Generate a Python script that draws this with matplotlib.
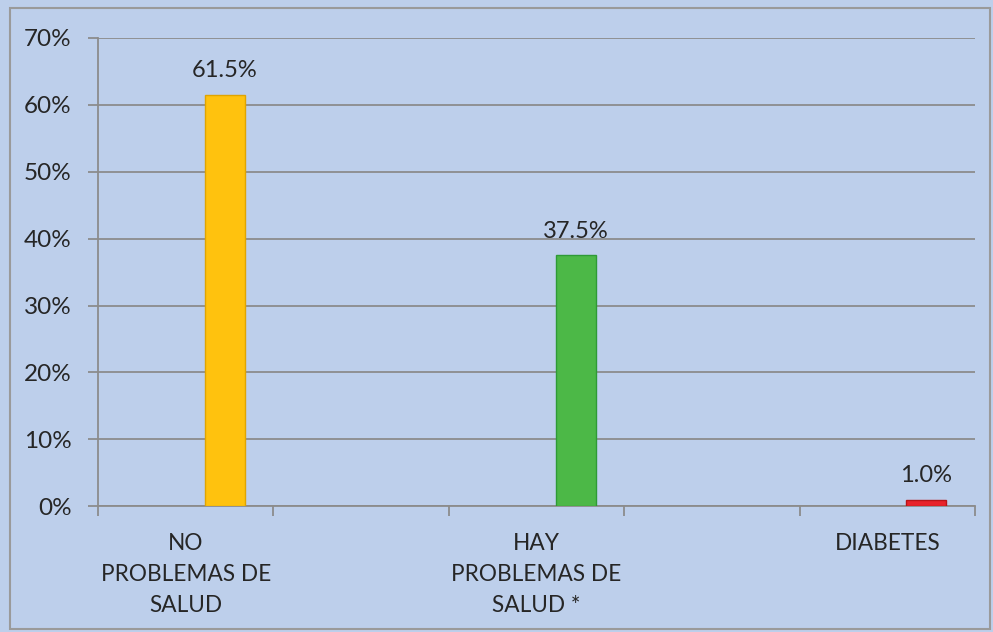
import matplotlib
matplotlib.use("Agg")
from matplotlib import pyplot as plt
from matplotlib.patches import Rectangle

# datos del gráfico
categorias = ["NO\nPROBLEMAS DE\nSALUD", "", "HAY\nPROBLEMAS DE\nSALUD *", "", "DIABETES"]
valores = [61.5, None, 37.5, None, 1.0]
colores = ["#FFC20E", None, "#4CB847", None, "#E8232A"]
bordes = ["#E0A400", None, "#2E9A36", None, "#B81418"]
yticks = [0, 10, 20, 30, 40, 50, 60, 70]

plt.rcParams['font.family'] = ['Lato', 'DejaVu Sans']

fig = plt.figure(figsize=(9.93, 6.32), dpi=100)
fig.patch.set_facecolor("#BDCFEB")
# marco exterior
fig.add_artist(Rectangle((0.010, 0.004), 0.987, 0.983, transform=fig.transFigure,
                         fill=False, edgecolor="#9a9a9a", linewidth=1.5))

ax = fig.add_axes([0.0987, 0.199, 0.8833, 0.741])
ax.set_facecolor("none")

off = 0.222   # desplazamiento de la barra dentro de la categoría
w = 0.228
for i, v in enumerate(valores):
    if v is None:
        continue
    ax.bar(i + off, v, width=w, color=colores[i], edgecolor=bordes[i], linewidth=1, zorder=3)
    ax.text(i + off, v + 2.0, f"{v:.1f}%", ha="center", va="bottom", fontsize=17, color="#262626")

ax.set_xlim(-0.5, 4.5)
ax.set_ylim(0, 70)
ax.set_yticks(yticks)
ax.set_yticklabels([f"{t}%" for t in yticks], fontsize=17.5, color="#262626")
ax.yaxis.grid(True, color="#8c8c8c", linewidth=1.3, zorder=0)
ax.set_axisbelow(True)

ax.set_xticks(range(5))
ax.set_xticklabels(categorias, fontsize=16.3, color="#262626", linespacing=1.6)
ax.set_xticks([k - 0.5 for k in range(6)], minor=True)
ax.tick_params(axis="x", which="major", length=0, pad=19)
ax.tick_params(axis="x", which="minor", length=7, color="#8c8c8c", width=1.3)
ax.tick_params(axis="y", length=7, color="#8c8c8c", width=1.3, pad=12)

for s in ["top", "right"]:
    ax.spines[s].set_visible(False)
for s in ["left", "bottom"]:
    ax.spines[s].set_color("#8c8c8c")
    ax.spines[s].set_linewidth(1.3)

fig.savefig("out.png", dpi=100)
